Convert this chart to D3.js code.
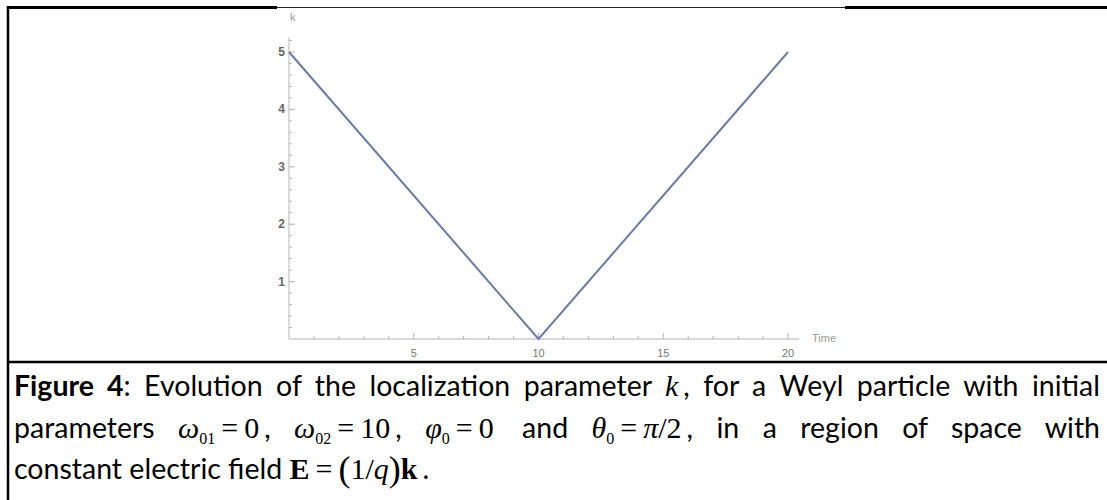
<!DOCTYPE html>
<html>
<head>
<meta charset="utf-8" />
<title>Figure 4 - localization parameter k</title>
<style>
body { margin: 0; background: #fff; }
#page { position: relative; width: 1107px; height: 500px; overflow: hidden; }
#chart { position: absolute; left: 0; top: 0; }
.cap {
    position: absolute;
    left: 14px;
    width: 1086px;
    height: 40px;
    line-height: 40px;
    font-family: Lato, "Open Sans", sans-serif;
    font-size: 28.5px;
    color: #000;
    white-space: nowrap;
}
.just { text-align: justify; text-align-last: justify; }
.m { font-family: "Liberation Serif", "DejaVu Serif", serif; font-size: 30px; margin-right: 5px; }
.mi { font-style: italic; }
.sub { font-size: 16px; vertical-align: -6px; font-style: normal; }
.eq { margin: 0 6px 0 6px; }
.bf { font-weight: bold; }
.big { font-size: 36px; vertical-align: -2px; }
</style>
</head>
<body>
<div id="page">
  <svg id="chart" width="1107" height="500"></svg>
  <div class="cap just" style="top:365px;"><b>Figure 4</b>: Evolution of the localization parameter <span class="m mi">k</span>, for a Weyl particle with initial</div>
  <div class="cap just" style="top:407px;">parameters <span class="m"><span class="mi">ω</span><span class="sub">01</span><span class="eq">=</span>0</span>, <span class="m"><span class="mi">ω</span><span class="sub">02</span><span class="eq">=</span>10</span>, <span class="m"><span class="mi">φ</span><span class="sub">0</span><span class="eq">=</span>0</span> and <span class="m"><span class="mi">θ</span><span class="sub">0</span><span class="eq">=</span><span class="mi">π</span>/2</span>, in a region of space with</div>
  <div class="cap" style="top:448px;">constant electric field <span class="m"><span class="bf">E</span><span class="eq">=</span><span class="big">(</span>1/<span class="mi">q</span><span class="big">)</span><span class="bf">k</span></span>.</div>
</div>
<script src="https://d3js.org/d3.v7.min.js"></script>
<script>
// values
var times   = [0, 10, 20];
var kValues = [5, 0, 5];
var xTicks  = [5, 10, 15, 20];
var yTicks  = [1, 2, 3, 4, 5];
var xMinor  = d3.range(1, 21);
var yMinor  = d3.range(0.2, 5.21, 0.2);

var svg = d3.select("#chart");

// frame of the table cell around the figure
var frame = svg.append("g");
frame.append("line").attr("x1", 7).attr("x2", 277).attr("y1", 7.5).attr("y2", 7.5)
    .attr("stroke", "#000").attr("stroke-width", 3);
frame.append("line").attr("x1", 845).attr("x2", 1107).attr("y1", 7.5).attr("y2", 7.5)
    .attr("stroke", "#000").attr("stroke-width", 3);
frame.append("line").attr("x1", 277).attr("x2", 845).attr("y1", 7.5).attr("y2", 7.5)
    .attr("stroke", "#222").attr("stroke-width", 1);
frame.append("line").attr("x1", 8).attr("x2", 8).attr("y1", 6).attr("y2", 500)
    .attr("stroke", "#000").attr("stroke-width", 2.5);
frame.append("line").attr("x1", 7).attr("x2", 1107).attr("y1", 362).attr("y2", 362)
    .attr("stroke", "#000").attr("stroke-width", 2.5);

var x = d3.scaleLinear().domain([0, 20]).range([289, 788]);
var y = d3.scaleLinear().domain([0, 5]).range([339, 52]);

var axisColor = "#b4b4b4";
var g = svg.append("g");

// axes lines
g.append("line").attr("x1", x(0)).attr("x2", x(20.45)).attr("y1", y(0)).attr("y2", y(0))
    .attr("stroke", axisColor).attr("stroke-width", 1);
g.append("line").attr("x1", x(0)).attr("x2", x(0)).attr("y1", y(0)).attr("y2", y(5.25))
    .attr("stroke", axisColor).attr("stroke-width", 1);

// ticks
g.selectAll(".xminor").data(xMinor).enter().append("line")
    .attr("x1", d => x(d)).attr("x2", d => x(d))
    .attr("y1", y(0)).attr("y2", d => y(0) - (d % 5 === 0 ? 6 : 3))
    .attr("stroke", axisColor);
g.selectAll(".yminor").data(yMinor).enter().append("line")
    .attr("y1", d => y(d)).attr("y2", d => y(d))
    .attr("x1", x(0)).attr("x2", d => x(0) + (Math.abs(d - Math.round(d)) < 1e-6 ? 6 : 3))
    .attr("stroke", axisColor);

// tick labels
g.selectAll(".xl").data(xTicks).enter().append("text")
    .attr("x", d => x(d)).attr("y", 357)
    .attr("text-anchor", "middle")
    .style("font-family", "'Liberation Sans', Arial, sans-serif")
    .style("font-size", "11px").style("fill", "#777")
    .text(d => d);
g.selectAll(".yl").data(yTicks).enter().append("text")
    .attr("x", x(0) - 4).attr("y", d => y(d) + 4)
    .attr("text-anchor", "end")
    .style("font-family", "'Liberation Sans', Arial, sans-serif")
    .style("font-size", "12px").style("font-weight", "bold").style("fill", "#666")
    .text(d => d);

g.append("text").attr("x", x(0) + 1).attr("y", 21)
    .style("font-family", "'Liberation Sans', Arial, sans-serif")
    .style("font-size", "11px").style("fill", "#999").text("k");
g.append("text").attr("x", 812).attr("y", 342)
    .style("font-family", "'Liberation Sans', Arial, sans-serif")
    .style("font-size", "11px").style("fill", "#999").text("Time");

// the curve
var pts = times.map((t, i) => [t, kValues[i]]);
var line = d3.line().x(d => x(d[0])).y(d => y(d[1]));
g.append("path").datum(pts)
    .attr("d", line)
    .attr("fill", "none")
    .attr("stroke", "#6a7ca6")
    .attr("stroke-width", 2);
</script>
</body>
</html>
